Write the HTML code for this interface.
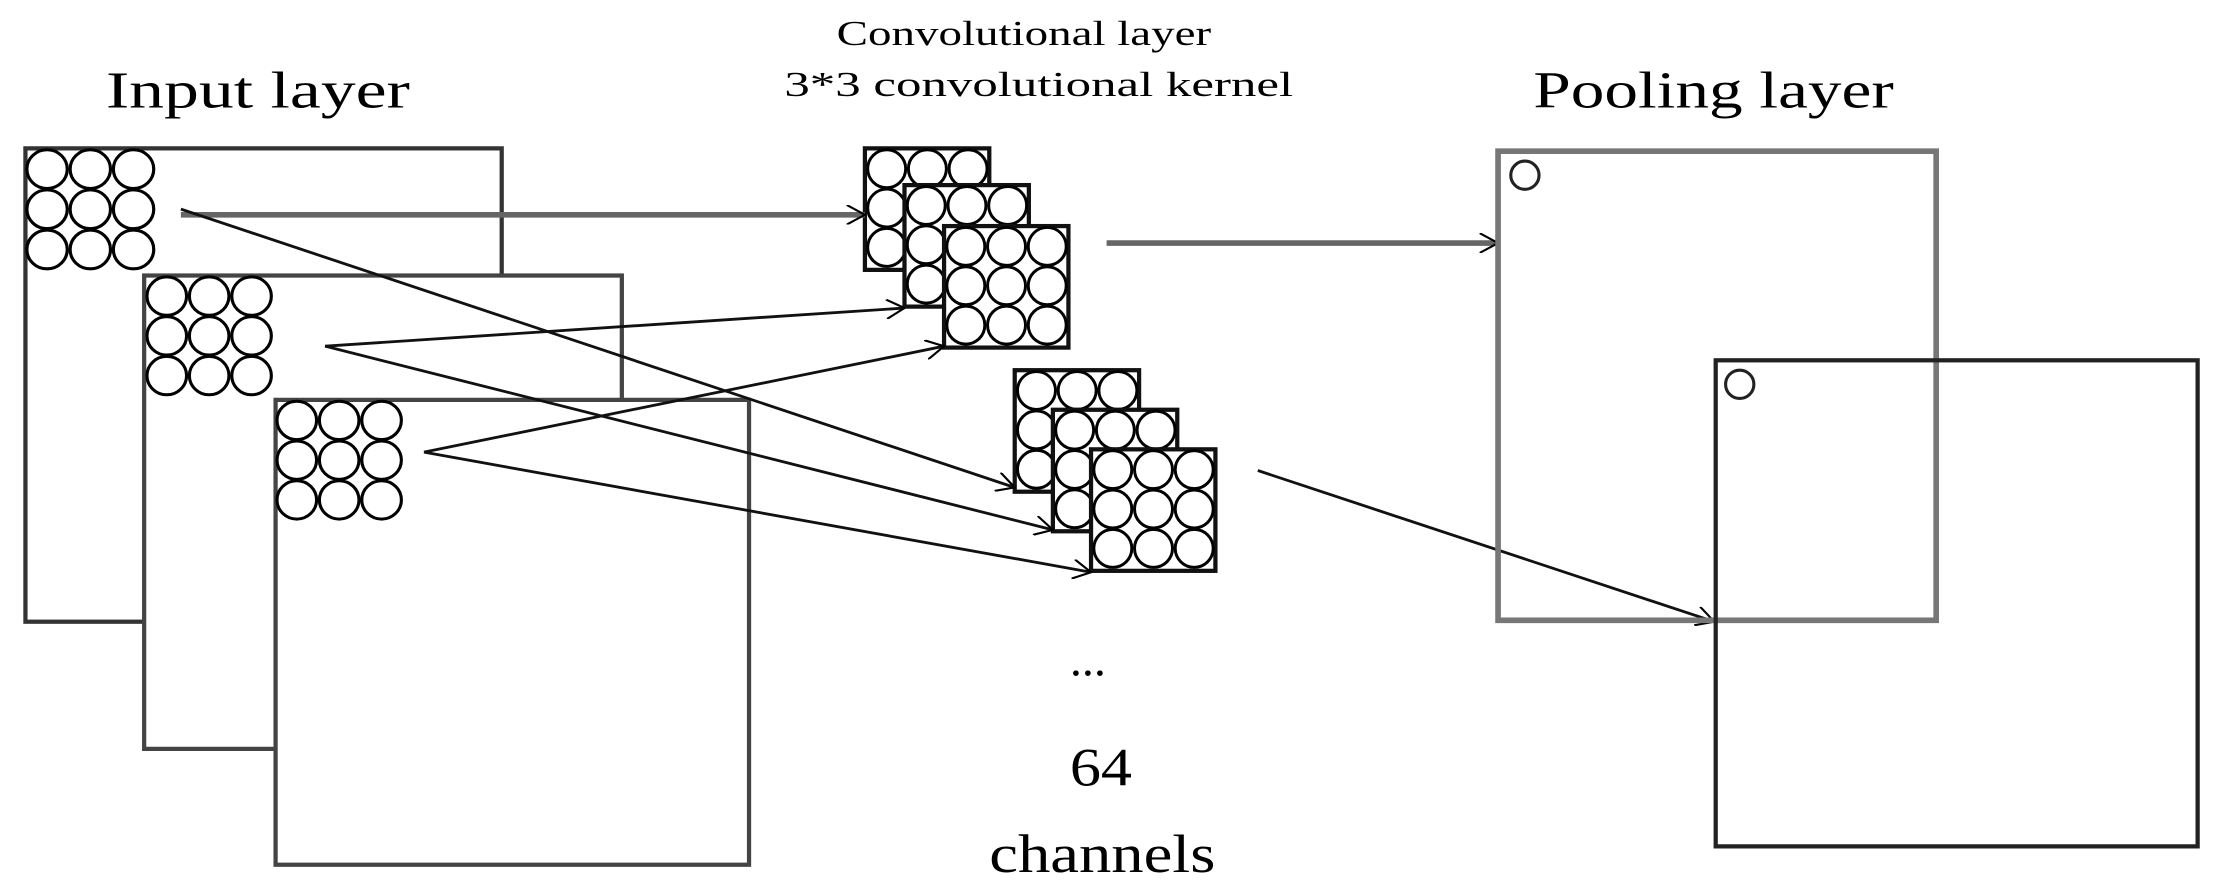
<!DOCTYPE html>
<html><head><meta charset="utf-8"><style>
html,body{margin:0;padding:0;background:#fff;}
svg{display:block;}
text{font-family:"Liberation Serif",serif;fill:#000;}
</style></head><body>
<svg width="2216" height="893" viewBox="0 0 1568 632" preserveAspectRatio="none" xmlns="http://www.w3.org/2000/svg">
<defs>
<g id="g3">
 <circle cx="15" cy="15" r="14" fill="none" stroke="#000" stroke-width="2.2"/>
 <circle cx="45" cy="15" r="14" fill="none" stroke="#000" stroke-width="2.2"/>
 <circle cx="75" cy="15" r="14" fill="none" stroke="#000" stroke-width="2.2"/>
 <circle cx="15" cy="44" r="14" fill="none" stroke="#000" stroke-width="2.2"/>
 <circle cx="45" cy="44" r="14" fill="none" stroke="#000" stroke-width="2.2"/>
 <circle cx="75" cy="44" r="14" fill="none" stroke="#000" stroke-width="2.2"/>
 <circle cx="15" cy="73" r="14" fill="none" stroke="#000" stroke-width="2.2"/>
 <circle cx="45" cy="73" r="14" fill="none" stroke="#000" stroke-width="2.2"/>
 <circle cx="75" cy="73" r="14" fill="none" stroke="#000" stroke-width="2.2"/>
</g>
<g id="k">
 <rect x="0" y="0" width="88" height="86" fill="#fff" stroke="#111" stroke-width="3"/>
 <g transform="translate(1,0) scale(0.96)"><use href="#g3"/></g>
</g>
<marker id="ah" markerWidth="14" markerHeight="14" refX="13" refY="7" orient="auto" markerUnits="userSpaceOnUse">
 <path d="M0,0 L13,7 L0,14" fill="none" stroke="#000" stroke-width="1.5"/>
</marker>
</defs>

<text x="75" y="76" font-size="37" textLength="215" lengthAdjust="spacingAndGlyphs">Input  layer</text>
<text x="592" y="32" font-size="25" textLength="265" lengthAdjust="spacingAndGlyphs">Convolutional layer</text>
<text x="555" y="68" font-size="25" textLength="360" lengthAdjust="spacingAndGlyphs">3*3  convolutional kernel</text>
<text x="1085" y="76" font-size="37" textLength="255" lengthAdjust="spacingAndGlyphs">Pooling layer</text>

<!-- input boxes -->
<rect x="18" y="105" width="337" height="335" fill="#fff" stroke="#333" stroke-width="3"/>
<use href="#g3" transform="translate(18,105) scale(1.02,0.98)"/>
<rect x="102" y="195" width="338" height="335" fill="#fff" stroke="#444" stroke-width="3"/>
<use href="#g3" transform="translate(103,195) scale(1.0,0.97)"/>
<rect x="195" y="283" width="335" height="329" fill="#fff" stroke="#444" stroke-width="3"/>
<use href="#g3" transform="translate(195,283) scale(1.0,0.97)"/>

<!-- kernels -->
<use href="#k" transform="translate(612,105)"/>
<use href="#k" transform="translate(640,131)"/>
<use href="#k" transform="translate(668,160)"/>
<use href="#k" transform="translate(718,262)"/>
<use href="#k" transform="translate(745,290)"/>
<use href="#k" transform="translate(772,318)"/>

<!-- arrows -->
<g fill="none" stroke-width="2">
<line x1="128" y1="152" x2="612" y2="152" stroke="#666" stroke-width="4" marker-end="url(#ah)"/>
<line x1="128" y1="148" x2="718" y2="345" stroke="#111" marker-end="url(#ah)"/>
<line x1="230" y1="245" x2="640" y2="218" stroke="#111" marker-end="url(#ah)"/>
<line x1="230" y1="245" x2="745" y2="375" stroke="#111" marker-end="url(#ah)"/>
<line x1="300" y1="320" x2="668" y2="245" stroke="#111" marker-end="url(#ah)"/>
<line x1="300" y1="320" x2="772" y2="405" stroke="#111" marker-end="url(#ah)"/>
<line x1="783" y1="172" x2="1060" y2="172" stroke="#666" stroke-width="4" marker-end="url(#ah)"/>
<line x1="890" y1="333" x2="1213" y2="440" stroke="#111" marker-end="url(#ah)"/>
</g>

<!-- pooling -->
<rect x="1060" y="107" width="310" height="332" fill="none" stroke="#777" stroke-width="4"/>
<circle cx="1079" cy="124" r="10" fill="none" stroke="#222" stroke-width="2.2"/>
<rect x="1214" y="255" width="341" height="344" fill="none" stroke="#222" stroke-width="3"/>
<circle cx="1231" cy="272" r="10" fill="none" stroke="#222" stroke-width="2.2"/>

<text x="757" y="478" font-size="34">...</text>
<text x="757" y="556" font-size="38" textLength="44" lengthAdjust="spacingAndGlyphs">64</text>
<text x="700" y="617" font-size="38" textLength="160" lengthAdjust="spacingAndGlyphs">channels</text>
</svg>
</body></html>
